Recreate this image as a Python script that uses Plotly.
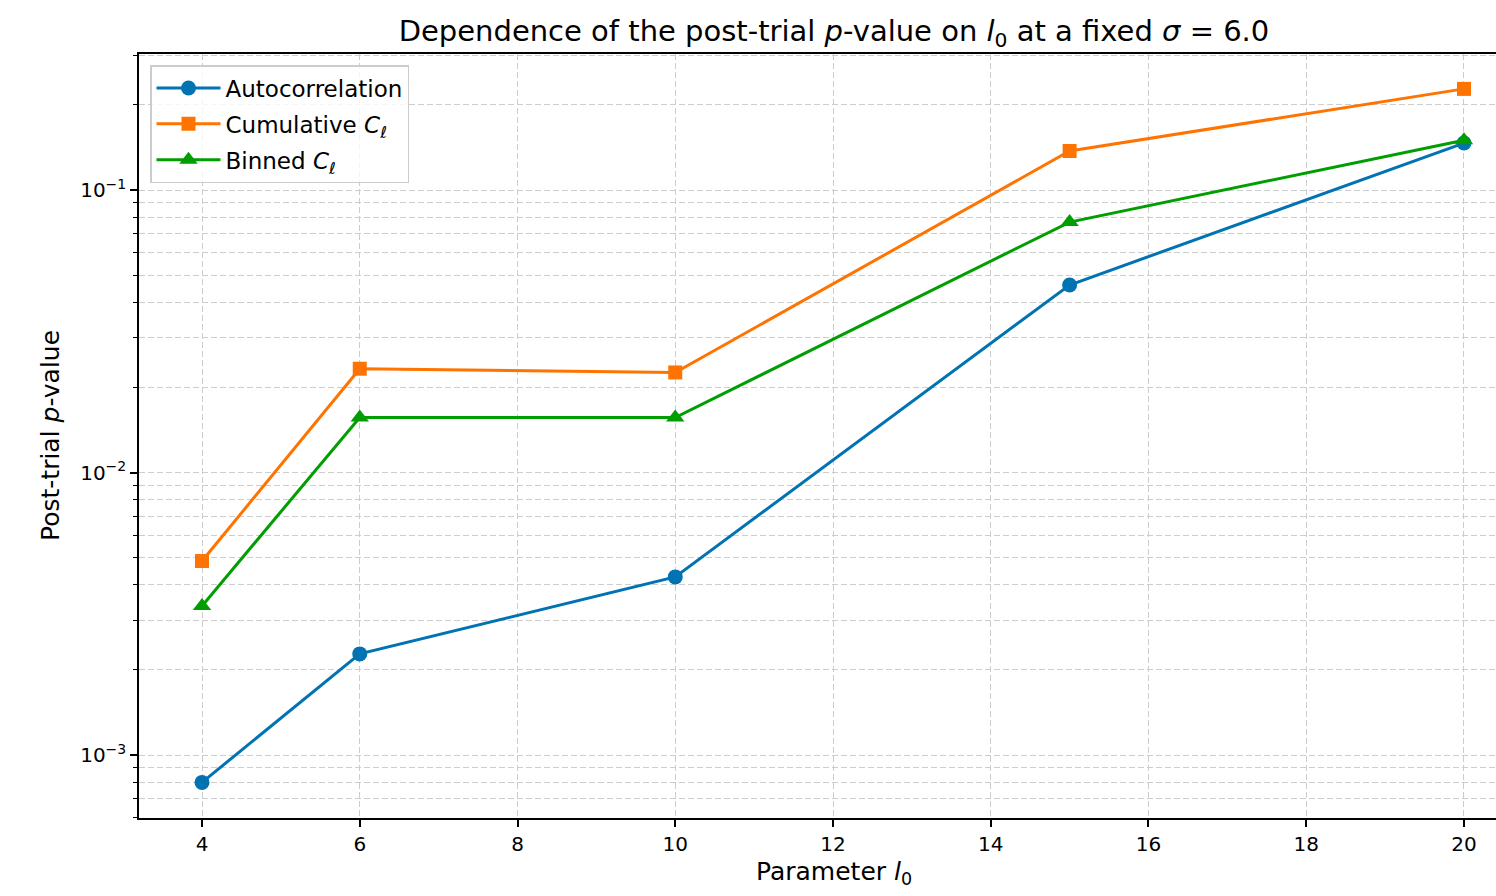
import plotly.graph_objects as go

# Data
l0_values = [4, 6, 10, 15, 20]
autocorrelation = [0.00080, 0.00228, 0.00427, 0.0461, 0.1466]
cumulative_cl = [0.00486, 0.0233, 0.0226, 0.1374, 0.228]
binned_cl = [0.00337, 0.01566, 0.01566, 0.0770, 0.150]

x_ticks = [4, 6, 8, 10, 12, 14, 16, 18, 20]
y_major = [1e-3, 1e-2, 1e-1]
y_major_text = ["10<sup>−3</sup>", "10<sup>−2</sup>", "10<sup>−1</sup>"]
y_minor = [m * 10.0 ** e for e in (-4, -3, -2, -1) for m in range(2, 10)]

BLUE = "#0173B2"
ORANGE = "#FF7300"
GREEN = "#009E00"
FONT = "DejaVu Sans"
GRID = "#cdcdcd"
DASH = "6px,3px"

fig = go.Figure()
fig.add_trace(go.Scatter(
    x=l0_values, y=autocorrelation, mode="lines+markers", name="Autocorrelation",
    legendgroup="a",
    line=dict(color=BLUE, width=3), marker=dict(symbol="circle", size=15, color=BLUE)))
fig.add_trace(go.Scatter(
    x=l0_values, y=cumulative_cl, mode="lines+markers", name="Cumulative <i>C</i><sub><i>ℓ</i></sub>",
    legendgroup="c",
    line=dict(color=ORANGE, width=3), marker=dict(symbol="square", size=14, color=ORANGE)))
fig.add_trace(go.Scatter(
    x=l0_values, y=binned_cl, mode="lines+markers", name="Binned <i>C</i><sub><i>ℓ</i></sub>",
    legendgroup="b",
    line=dict(color=GREEN, width=3), marker=dict(symbol="triangle-up", size=16, color=GREEN)))

L, T, B = 139, 54, 78
W, H = 1496, 896
plot_w = W - L
plot_h = H - T - B

fig.update_layout(
    width=W, height=H,
    margin=dict(l=L, r=0, t=T, b=B, autoexpand=False),
    paper_bgcolor="white", plot_bgcolor="white",
    font=dict(family=FONT, size=20, color="black"),
    title=dict(
        text="Dependence of the post-trial <i>p</i>-value on <i>l</i><sub>0</sub> at a fixed <i>σ</i> = 6.0",
        x=834 / W, xref="container", xanchor="center",
        y=1 - 31 / H, yref="container", yanchor="middle",
        font=dict(family=FONT, size=29, color="black")),
    showlegend=True,
    legend=dict(
        x=(150 - L) / plot_w, y=1 - (65 - T) / plot_h, xanchor="left", yanchor="top",
        bgcolor="rgba(255,255,255,0.8)", bordercolor="#cccccc", borderwidth=1.5,
        font=dict(family=FONT, size=23, color="black"),
        tracegroupgap=3, itemwidth=64),
    xaxis=dict(
        range=[3.201, 20.406], tickmode="array", tickvals=x_ticks,
        ticks="outside", ticklen=7, tickwidth=1.5, tickcolor="black",
        showline=True, linecolor="black", linewidth=1.5, mirror=True,
        showgrid=True, gridcolor=GRID, griddash=DASH, gridwidth=1.3,
        zeroline=False, tickfont=dict(family=FONT, size=20)),
    yaxis=dict(
        type="log", range=[-3.223, -0.5186], tickmode="array",
        tickvals=y_major, ticktext=y_major_text,
        ticks="outside", ticklen=7, tickwidth=1.5, tickcolor="black",
        showline=True, linecolor="black", linewidth=1.5,
        showgrid=True, gridcolor=GRID, griddash=DASH, gridwidth=1.3,
        zeroline=False, tickfont=dict(family=FONT, size=20),
        minor=dict(tickmode="array", tickvals=y_minor, ticks="outside", ticklen=4,
                   tickwidth=1, tickcolor="black", showgrid=True,
                   gridcolor=GRID, griddash=DASH, gridwidth=1.3)),
)

# Axis titles placed as annotations to match the reference positions
fig.add_annotation(
    text="Parameter <i>l</i><sub>0</sub>", xref="paper", yref="paper",
    x=(834 - L) / plot_w, y=(818 - 873) / plot_h, xanchor="center", yanchor="middle",
    showarrow=False, font=dict(family=FONT, size=25, color="black"))
fig.add_annotation(
    text="Post-trial <i>p</i>-value", xref="paper", yref="paper",
    x=(50 - L) / plot_w, y=0.5, xanchor="center", yanchor="middle", textangle=-90,
    showarrow=False, font=dict(family=FONT, size=25, color="black"))

fig.write_html("out.html")
